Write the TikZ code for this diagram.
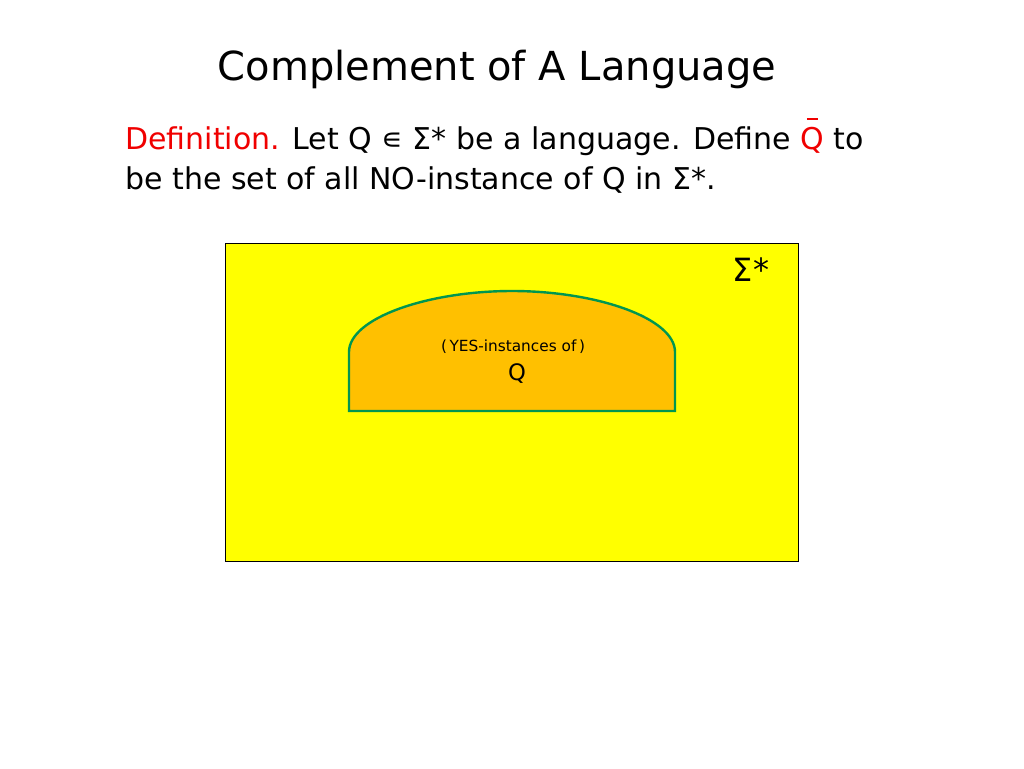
\documentclass[tikz,border=0pt]{standalone}
\usepackage{fontspec}
\setmainfont{DejaVu Sans}
\usepackage{xcolor}
\definecolor{sigmayellow}{RGB}{255,255,0}
\definecolor{qorange}{RGB}{255,192,0}
\definecolor{qgreen}{RGB}{0,150,80}
\definecolor{defred}{RGB}{240,0,0}
\newcommand{\qbar}{\makebox[0pt][l]{\hspace{0.2em}\rule[0.98em]{0.38em}{0.06em}}Q}

\begin{document}
\begin{tikzpicture}[x=0.75pt,y=-0.75pt]
    \tikzstyle{titletext} = [anchor=base, inner sep=0pt, font=\fontsize{30}{36}\selectfont]
    \tikzstyle{bodytext} = [anchor=base west, inner sep=0pt, font=\fontsize{22.5}{30}\selectfont]
    \tikzstyle{setlabel} = [inner sep=0pt, font=\fontsize{24}{28}\selectfont]

    \useasboundingbox (0,0) rectangle (1024,768);

    % Title and definition
    \node[titletext] (title) at (497,80) {Complement of A Language};
    \node[bodytext] (defline1) at (125,149) {\textcolor{defred}{Definition.} Let Q ∊ Σ* be a language. Define \textcolor{defred}{\qbar} to};
    \node[bodytext] (defline2) at (125,189) {be the set of all NO-instance of Q in Σ*.};

    % Sigma* universe
    \draw[black, fill=sigmayellow] (225,243) rectangle (798,561);
    \node[setlabel] (sigmastar) at (751,270) {Σ*};

    % YES-instances Q
    \draw[qgreen, line width=1.8pt, fill=qorange] (349,411) -- (349,352)
        .. controls (349,318) and (428,291) .. (512,291)
        .. controls (596,291) and (675,318) .. (675,352) -- (675,411) -- cycle;
    \node[inner sep=0pt, font=\fontsize{11.5}{14}\selectfont] (yesinst) at (513,347) {(\,YES-instances of\,)};
    \node[inner sep=0pt, font=\fontsize{17}{20}\selectfont] (qlabel) at (517,374) {Q};

\end{tikzpicture}
\end{document}
